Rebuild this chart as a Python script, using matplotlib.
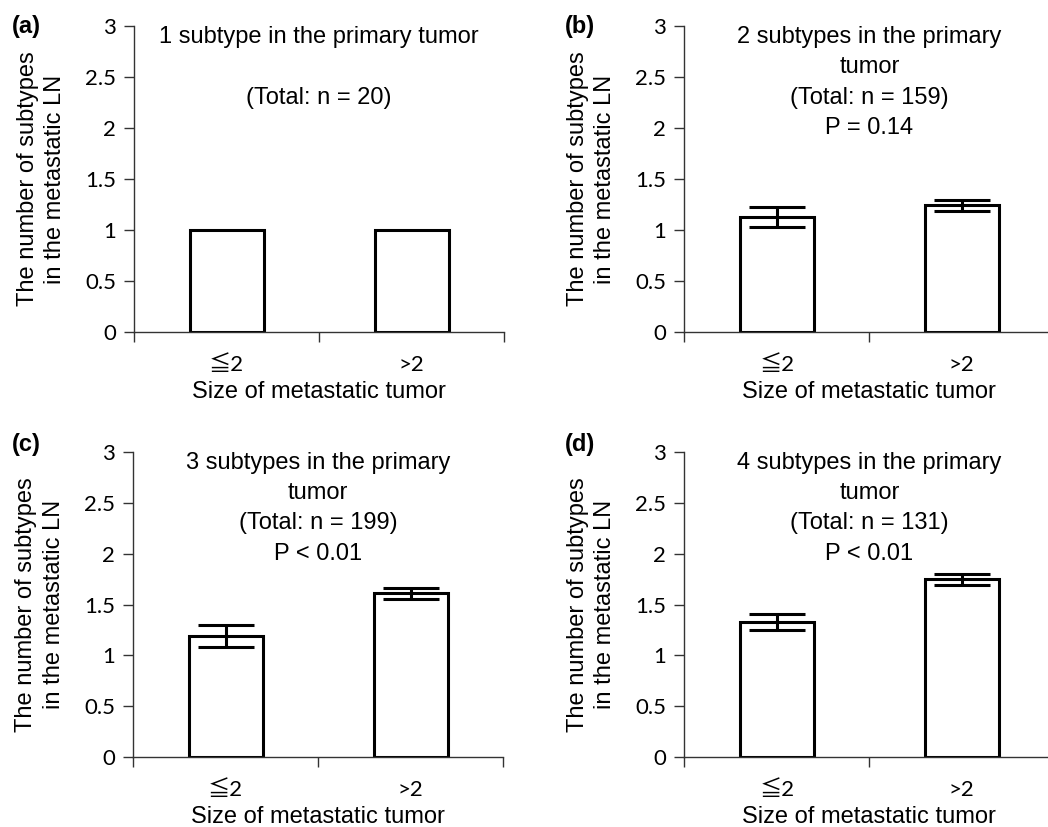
import matplotlib
matplotlib.use("Agg")
import matplotlib.pyplot as plt

# data
CATEGORIES = ["\u2266" + "2", ">2"]
PANEL_LABELS = ["(a)", "(b)", "(c)", "(d)"]
MEANS = [
    [1.00, 1.00],
    [1.13, 1.24],
    [1.19, 1.61],
    [1.33, 1.75],
]
ERRORS = [
    None,
    [0.10, 0.05],
    [0.105, 0.055],
    [0.08, 0.055],
]
NOTES = [
    ["1 subtype in the primary tumor", "", "(Total: n = 20)"],
    ["2 subtypes in the primary", "tumor", "(Total: n = 159)", "P = 0.14"],
    ["3 subtypes in the primary", "tumor", "(Total: n = 199)", "P < 0.01"],
    ["4 subtypes in the primary", "tumor", "(Total: n = 131)", "P < 0.01"],
]
Y_TICKS = [0, 0.5, 1, 1.5, 2, 2.5, 3]
Y_TICK_LABELS = ["0", "0.5", "1", "1.5", "2", "2.5", "3"]
XLABEL = "Size of metastatic tumor"
YLABEL = "The number of subtypes\nin the metastatic LN"

TEXT_FONT = ["Liberation Sans", "DejaVu Sans"]
TICK_FONT = ["Lato", "Noto Sans CJK JP", "DejaVu Sans"]

fig = plt.figure(figsize=(10.48, 8.27), dpi=100)

# [left, bottom, width, height] in figure fractions
positions = [
    [0.128, 0.599, 0.353, 0.369],
    [0.653, 0.599, 0.353, 0.369],
    [0.127, 0.085, 0.353, 0.368],
    [0.653, 0.085, 0.353, 0.368],
]
label_xy = [(0.011, 0.968), (0.539, 0.968), (0.011, 0.463), (0.539, 0.463)]

for i in range(4):
    ax = fig.add_axes(positions[i])
    x = range(len(CATEGORIES))
    ax.bar(x, MEANS[i], width=0.4, color="white", edgecolor="black",
           linewidth=2.2, zorder=2)
    if ERRORS[i] is not None:
        ax.errorbar(x, MEANS[i], yerr=ERRORS[i], fmt="none", ecolor="black",
                    elinewidth=2.2, capsize=20, capthick=2.2, zorder=3)

    ax.set_xlim(-0.5, 1.5)
    ax.set_ylim(0, 3)
    ax.set_yticks(Y_TICKS)
    ax.set_yticklabels(Y_TICK_LABELS, family=TICK_FONT, fontsize=16)
    ax.set_xticks([-0.5, 0.5, 1.5])
    ax.set_xticklabels([])
    ax.set_xticks(list(x), minor=True)
    ax.set_xticklabels(CATEGORIES, minor=True, family=TICK_FONT, fontsize=16)
    ax.tick_params(axis="x", which="major", length=7, width=1, color="#333333")
    ax.tick_params(axis="x", which="minor", length=0, pad=17)
    ax.tick_params(axis="y", length=7, width=1, color="#333333", pad=6)

    for side in ["top", "right"]:
        ax.spines[side].set_visible(False)
    for side in ["left", "bottom"]:
        ax.spines[side].set_color("#333333")
        ax.spines[side].set_linewidth(1)

    ax.set_xlabel(XLABEL, family=TEXT_FONT, fontsize=17, labelpad=4)
    ax.set_ylabel(YLABEL, family=TEXT_FONT, fontsize=17, labelpad=14,
                  linespacing=1.3)

    for j, line in enumerate(NOTES[i]):
        ax.text(0.5, 2.9 - 0.3 * j, line, ha="center", va="center",
                family=TEXT_FONT, fontsize=17)

    fig.text(label_xy[i][0], label_xy[i][1], PANEL_LABELS[i],
             family=TEXT_FONT, fontsize=17, fontweight="bold",
             ha="left", va="center")

fig.savefig("out.png", dpi=100)
